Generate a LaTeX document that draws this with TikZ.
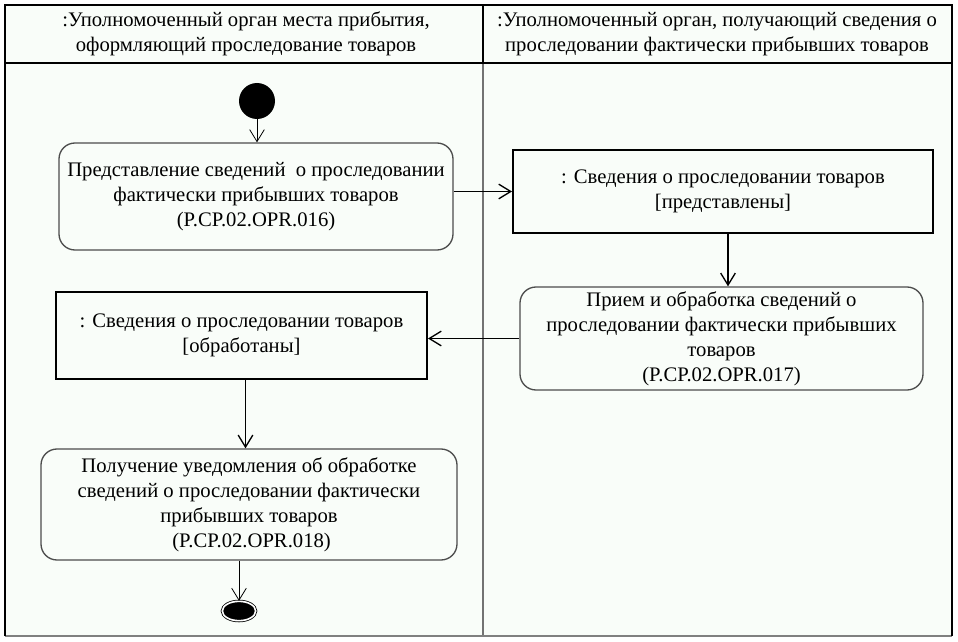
\documentclass[tikz,border=0pt]{standalone}
\usepackage{fontspec}
\setmainfont{Liberation Serif}
\usetikzlibrary{arrows.meta, shapes.geometric}
\definecolor{bgtint}{RGB}{249,253,249}

\begin{document}
\begin{tikzpicture}[x=0.75pt, y=-0.75pt,
  every node/.style={font=\fontsize{15.5}{18.75}\selectfont, align=center, inner sep=0pt},
  act/.style={draw=black!70, line width=1pt, rounded corners=12pt},
  obj/.style={draw=black, line width=1.5pt},
  flow/.style={-{Straight Barb[length=9pt,width=11pt]}, line width=1pt}]
\useasboundingbox (0,0) rectangle (958,642);
\fill [bgtint] (5,5) rectangle (952,636);
\draw [black!55, line width=1pt] (483,63) -- (483,636);
\draw [line width=1.5pt] (5,63) -- (952,63);
\draw [line width=1.5pt] (483,5) -- (483,63);
\draw [black!50, line width=1.5pt] (5,636) -- (952,636);
\draw [line width=1.5pt] (5,636) -- (5,5) -- (952,5) -- (952,636);
\node (lane1) at (246,34) {:Уполномоченный орган места прибытия,\\ оформляющий проследование товаров};
\node (lane2) at (717,34) {:Уполномоченный орган, получающий сведения о\\ проследовании фактически прибывших товаров};
\node [circle, fill=black, minimum size=27pt] (start) at (257,101) {};
\node [act, minimum width=295.5pt, minimum height=80.25pt] (prs) at (256,196.5) {Представление сведений~ о проследовании\\ фактически прибывших товаров\\ (P.CP.02.OPR.016)};
\node [obj, minimum width=315pt, minimum height=62.25pt] (sv1) at (723,191.5) {: Сведения о проследовании товаров\\ {[}представлены{]}};
\node [act, minimum width=302.25pt, minimum height=77.25pt] (pr2) at (721.5,338.5) {Прием и обработка сведений о\\ проследовании фактически прибывших\\ товаров\\ (P.CP.02.OPR.017)};
\node [obj, minimum width=278.25pt, minimum height=65.25pt] (sv2) at (241.5,335.5) {: Сведения о проследовании товаров\\ {[}обработаны{]}};
\node [act, minimum width=312pt, minimum height=83.25pt] (pol) at (249,504.5) {Получение уведомления об обработке\\ сведений о проследовании фактически\\ прибывших товаров\\ ~(P.CP.02.OPR.018)};
\node [ellipse, draw, fill=black, double, double distance=1.2pt, line width=0.6pt, minimum width=25pt, minimum height=14.5pt] (fin) at (239,611) {};
\draw [flow, line width=0.6pt] (start) -- (start |- prs.north);
\draw [flow] (sv1.west -| prs.east) -- (sv1.west);
\draw [flow] ([xshift=3.75pt]sv1.south) -- ([xshift=3.75pt]sv1.south |- pr2.north);
\draw [flow] (pr2.west) -- (pr2.west -| sv2.east);
\draw [flow] ([xshift=3pt]sv2.south) -- ([xshift=3pt]sv2.south |- pol.north);
\draw [flow, line width=0.6pt] (pol.south -| fin) -- (fin);
\end{tikzpicture}
\end{document}
